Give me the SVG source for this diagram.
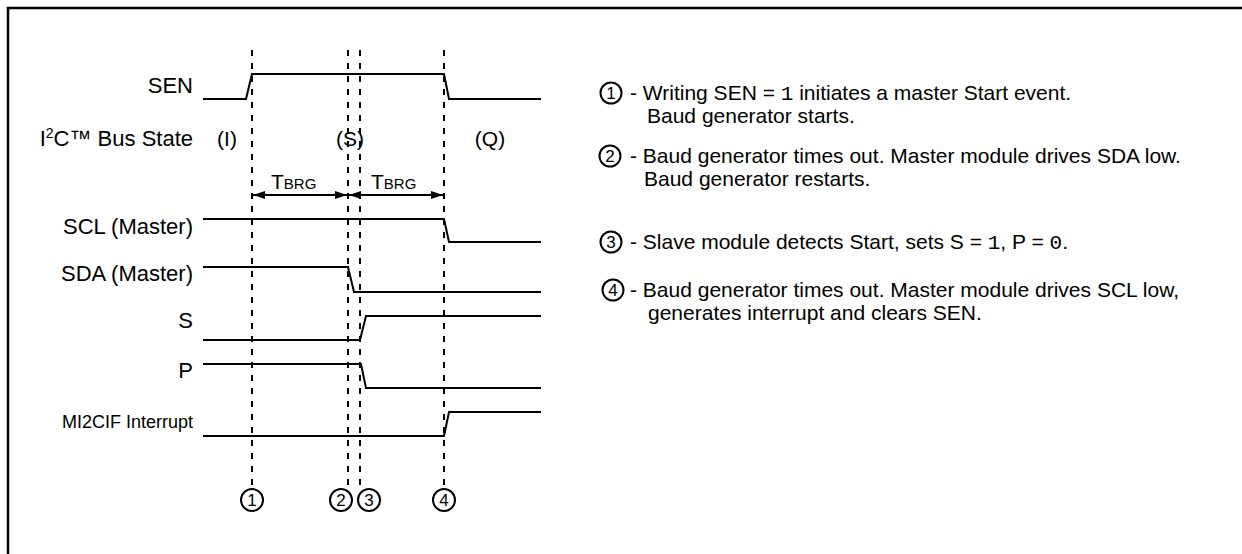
<svg xmlns="http://www.w3.org/2000/svg" width="1242" height="554" viewBox="0 0 1242 554">
<style>
.lbl{font-family:"Liberation Sans",Arial,sans-serif;font-size:22px;fill:#000}
.txt{font-family:"Liberation Sans",Arial,sans-serif;font-size:21px;fill:#000}
.small{font-family:"Liberation Sans",Arial,sans-serif;font-size:18px;fill:#000}
.sig{fill:none;stroke:#000;stroke-width:2}
.dash{fill:none;stroke:#000;stroke-width:2;stroke-dasharray:6 7}
.circ{fill:#fff;stroke:#000;stroke-width:2}
.num{font-family:"Liberation Sans",Arial,sans-serif;font-size:17px;fill:#000;text-anchor:middle}
.mono{font-family:"Liberation Mono","Courier New",monospace}
</style>
<defs>
<marker id="ah" viewBox="0 0 12 8" refX="12" refY="4" markerWidth="12" markerHeight="8" markerUnits="userSpaceOnUse" orient="auto-start-reverse">
<path d="M0,0 L12,4 L0,8 Z" fill="#000"/>
</marker>
</defs>
<rect width="1242" height="554" fill="#fff"/>
<path d="M8,554 V8 H1242" fill="none" stroke="#000" stroke-width="2.5"/>

<g id="connectors">
<path class="dash" d="M252,50 V487"/>
<path class="dash" d="M348,50 V487"/>
<path class="dash" d="M360,50 V487"/>
<path class="dash" d="M444,50 V487"/>
<line class="sig" x1="253" y1="195" x2="347" y2="195" marker-start="url(#ah)" marker-end="url(#ah)"/>
<line class="sig" x1="349" y1="195" x2="443" y2="195" marker-start="url(#ah)" marker-end="url(#ah)"/>
</g>

<g id="sen">
<text class="lbl" x="193" y="93" text-anchor="end">SEN</text>
<path class="sig" d="M203,99 H246 L252,74 H444 L449,99 H541"/>
</g>
<g id="busstate">
<text class="lbl" x="193" y="146" text-anchor="end">I<tspan font-size="14" dy="-8">2</tspan><tspan dy="8">C™ Bus State</tspan></text>
<text class="txt" x="227" y="146" text-anchor="middle">(I)</text>
<text class="txt" x="350" y="146" text-anchor="middle">(S)</text>
<text class="txt" x="490" y="146" text-anchor="middle">(Q)</text>
</g>
<g id="tbrg">
<text class="txt" x="271" y="189">T<tspan font-size="15">BRG</tspan></text>
<text class="txt" x="371" y="189">T<tspan font-size="15">BRG</tspan></text>
</g>
<g id="scl">
<text class="lbl" x="193" y="234" text-anchor="end">SCL (Master)</text>
<path class="sig" d="M203,219 H444 L449,242 H541"/>
</g>
<g id="sda">
<text class="lbl" x="193" y="281" text-anchor="end">SDA (Master)</text>
<path class="sig" d="M203,267 H348 L354,292 H541"/>
</g>
<g id="s">
<text class="lbl" x="193" y="328" text-anchor="end">S</text>
<path class="sig" d="M203,340 H360 L366,316 H541"/>
</g>
<g id="p">
<text class="lbl" x="193" y="378" text-anchor="end">P</text>
<path class="sig" d="M203,364 H361 L366,388 H541"/>
</g>
<g id="mi2cif">
<text class="small" x="193" y="428" text-anchor="end">MI2CIF Interrupt</text>
<path class="sig" d="M203,436 H444 L449,412 H541"/>
</g>

<g id="markers-bottom">
<circle class="circ" cx="252" cy="500" r="11"/><text class="num" x="252" y="506">1</text>
<circle class="circ" cx="341" cy="500" r="11"/><text class="num" x="341" y="506">2</text>
<circle class="circ" cx="369" cy="500" r="11"/><text class="num" x="369" y="506">3</text>
<circle class="circ" cx="444" cy="500" r="11"/><text class="num" x="444" y="506">4</text>
</g>

<g id="note1">
<circle class="circ" cx="611" cy="93" r="10.5"/><text class="num" x="611" y="99">1</text>
<text class="txt" x="630" y="100">- Writing SEN = <tspan class="mono">1</tspan> initiates a master Start event.</text>
<text class="txt" x="647" y="123">Baud generator starts.</text>
</g>
<g id="note2">
<circle class="circ" cx="610" cy="156" r="10.5"/><text class="num" x="610" y="162">2</text>
<text class="txt" x="630" y="163">- Baud generator times out. Master module drives SDA low.</text>
<text class="txt" x="644" y="186">Baud generator restarts.</text>
</g>
<g id="note3">
<circle class="circ" cx="611" cy="242" r="10.5"/><text class="num" x="611" y="248">3</text>
<text class="txt" x="630" y="249">- Slave module detects Start, sets S = <tspan class="mono">1</tspan>, P = <tspan class="mono">0</tspan>.</text>
</g>
<g id="note4">
<circle class="circ" cx="613" cy="290" r="10.5"/><text class="num" x="613" y="296">4</text>
<text class="txt" x="630" y="297">- Baud generator times out. Master module drives SCL low,</text>
<text class="txt" x="648" y="320">generates interrupt and clears SEN.</text>
</g>
</svg>
